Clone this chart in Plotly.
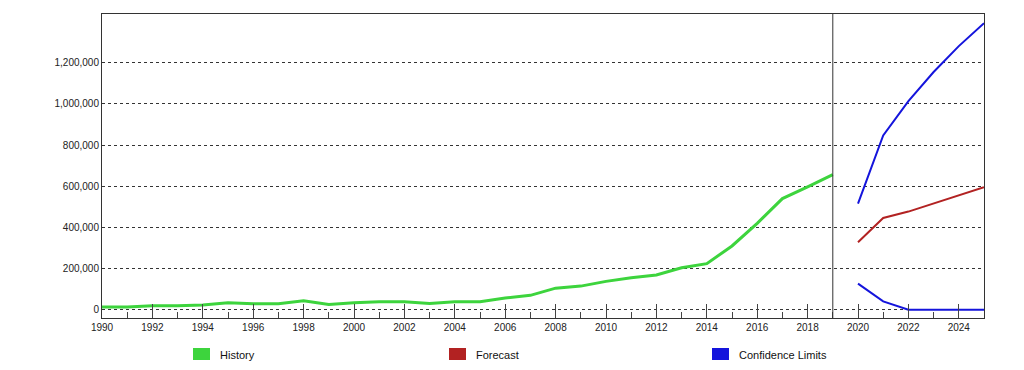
import plotly.graph_objects as go

hist_years = list(range(1990, 2020))
history = [13000, 13000, 19000, 19000, 23000, 34000, 29000, 29000, 44000, 26000,
           34000, 39000, 39000, 31000, 39000, 39000, 57000, 70000, 105000, 115000,
           138000, 156000, 169000, 204000, 224000, 310000, 420000, 540000, 597000, 657000]

fc_years = list(range(2020, 2026))
forecast = [328000, 446000, 477000, 516000, 555000, 595000]
upper = [516000, 847000, 1014000, 1155000, 1281000, 1392000]
lower = [127000, 41000, 0, 0, 0, 0]

y_ticks = [0, 200000, 400000, 600000, 800000, 1000000, 1200000]
y_tick_text = ["0", "200,000", "400,000", "600,000", "800,000", "1,000,000", "1,200,000"]

legend_names = ["History", "Forecast", "Confidence Limits"]
GREEN = "#3dd43d"
RED = "#b22222"
BLUE = "#1414dc"
legend_colors = [GREEN, RED, BLUE]
legend_px = [193, 449, 712]

FONT = "Liberation Sans, Arial, sans-serif"

fig = go.Figure()
fig.add_trace(go.Scatter(x=hist_years, y=history, mode="lines",
                         line=dict(color=GREEN, width=3), showlegend=False))
fig.add_trace(go.Scatter(x=fc_years, y=forecast, mode="lines",
                         line=dict(color=RED, width=2), showlegend=False))
fig.add_trace(go.Scatter(x=fc_years, y=upper, mode="lines",
                         line=dict(color=BLUE, width=2), showlegend=False))
fig.add_trace(go.Scatter(x=fc_years, y=lower, mode="lines",
                         line=dict(color=BLUE, width=2), showlegend=False))

# page body has an 8px margin; compensate so plot lands at page px 102..984, 14..318
OFF = 8
W, H = 1024 - OFF, 370 - OFF
L, T = 102 - OFF, 14 - OFF
R = OFF + W - 984
B = OFF + H - 318
pw, ph = W - L - R, H - T - B

def px_to_paper_x(px):
    return (px - OFF - L) / pw

def py_to_paper_y(py):
    return (H - B - (py - OFF)) / ph

shapes = [dict(type="line", xref="x", yref="paper", x0=2019, x1=2019, y0=0, y1=1,
               line=dict(color="#333333", width=1))]
annotations = []
for name, col, px in zip(legend_names, legend_colors, legend_px):
    shapes.append(dict(type="rect", xref="paper", yref="paper",
                       x0=px_to_paper_x(px), x1=px_to_paper_x(px + 17),
                       y0=py_to_paper_y(360), y1=py_to_paper_y(348),
                       fillcolor=col, line=dict(width=0)))
    annotations.append(dict(xref="paper", yref="paper", x=px_to_paper_x(px + 25),
                            y=py_to_paper_y(355), text=name, showarrow=False,
                            xanchor="left", yanchor="middle",
                            font=dict(family=FONT, size=11, color="#111111")))

fig.update_layout(
    width=W, height=H,
    margin=dict(l=L, r=R, t=T, b=B, pad=0),
    plot_bgcolor="white", paper_bgcolor="white",
    shapes=shapes, annotations=annotations,
    showlegend=False,
    font=dict(family=FONT, size=10, color="#222222"),
    xaxis=dict(range=[1990, 2025], tick0=1990, dtick=2, ticks="inside", ticklen=14,
               tickcolor="#444444", tickwidth=1,
               minor=dict(ticks="inside", ticklen=6, dtick=1, tick0=1990,
                          tickcolor="#444444", showgrid=False),
               showgrid=False, zeroline=False, showline=True, linecolor="#333333",
               linewidth=1, mirror=True, tickfont=dict(size=10, color="#222222")),
    yaxis=dict(range=[-40000, 1437000], tickvals=y_ticks, ticktext=y_tick_text,
               showgrid=True, gridcolor="#333333", griddash="3px,3px", gridwidth=1,
               zeroline=False, showline=True, linecolor="#333333", linewidth=1,
               mirror=True, ticks="", ticklabelstandoff=0,
               tickfont=dict(size=10, color="#222222")),
)

fig.write_html("out.html")
